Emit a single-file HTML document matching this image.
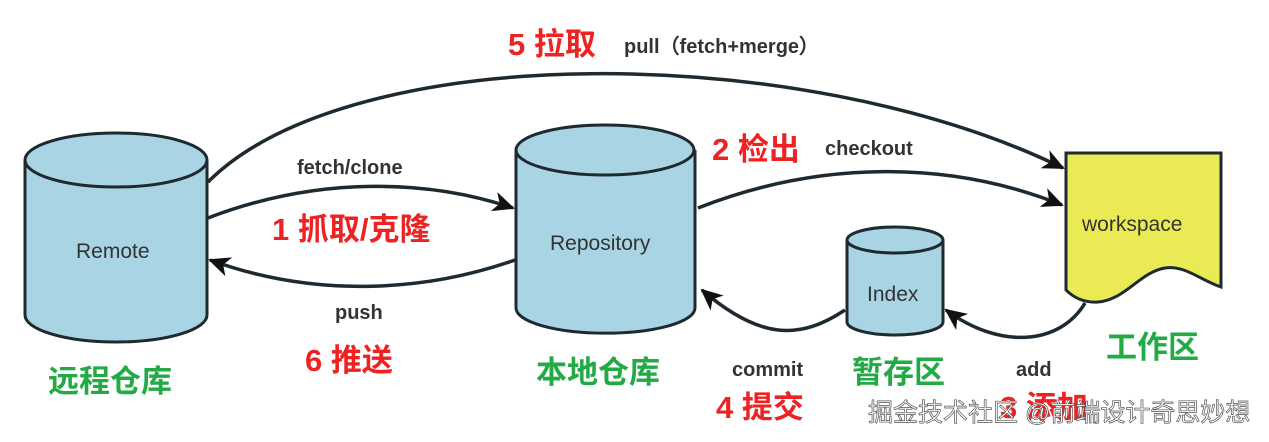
<!DOCTYPE html>
<html><head><meta charset="utf-8"><style>
html,body{margin:0;padding:0;background:#fff;}
svg{display:block;}
.l{font-family:"Liberation Sans",sans-serif;font-weight:bold;fill:#333;font-size:20px;}
.n{font-family:"Liberation Sans",sans-serif;fill:#333;font-size:21px;}
.r{font-family:"Liberation Sans","Noto Sans CJK SC",sans-serif;font-weight:bold;fill:#ee2222;font-size:31px;}
.g{font-family:"Liberation Sans","Noto Sans CJK SC",sans-serif;font-weight:bold;fill:#22aa44;font-size:31px;}
</style></head><body>
<svg width="1269" height="442" viewBox="0 0 1269 442">
<defs><marker id="a" markerWidth="22" markerHeight="22" refX="20" refY="11" orient="auto" markerUnits="userSpaceOnUse" viewBox="0 0 22 22"><path d="M0,1 L22,11 L0,21 L6,11z" fill="#111"/></marker></defs>
<g fill="#a9d4e3" stroke="#1e2a30" stroke-width="3">
<path d="M25,160 V315 A91,27 0 0 0 207,315 V160"/>
<ellipse cx="116" cy="160" rx="91" ry="27"/>
<path d="M516,150 V308 A89,25 0 0 0 695,308 V150"/>
<ellipse cx="605" cy="150" rx="89" ry="25"/>
<path d="M847,240 V322 A48,13 0 0 0 943,322 V240"/>
<ellipse cx="895" cy="240" rx="48" ry="13"/>
</g>
<path d="M1066,153 H1221 V287 C1200,280 1185,265 1165,268 C1140,272 1125,300 1098,302 C1082,303 1072,296 1066,290 Z" fill="#eaea55" stroke="#1e2a30" stroke-width="3"/>
<g fill="none" stroke="#1e2a30" stroke-width="3.5" marker-end="url(#a)">
<path d="M208,182 C350,40 800,40 1063,168"/>
<path d="M208,218 C320,175 430,180 513,208"/>
<path d="M515,260 C430,290 320,300 210,260"/>
<path d="M698,208 C820,160 950,160 1062,205"/>
<path d="M845,310 C800,340 760,340 702,290"/>
<path d="M1085,303 C1060,345 1000,350 946,310"/>
</g>
<text class="n" x="76" y="258">Remote</text>
<text class="n" x="550" y="250">Repository</text>
<text class="n" x="867" y="301">Index</text>
<text class="n" x="1082" y="231">workspace</text>
<text class="r" x="508" y="55">5 拉取</text><text class="l" x="624" y="53" font-size="22">pull（fetch+merge）</text>
<text class="l" x="297" y="174">fetch/clone</text>
<text class="r" x="272" y="240">1 抓取/克隆</text>
<text class="l" x="335" y="319">push</text>
<text class="r" x="305" y="371">6 推送</text>
<text class="r" x="712" y="160">2 检出</text><text class="l" x="825" y="155">checkout</text>
<text class="l" x="732" y="376">commit</text>
<text class="r" x="716" y="418">4 提交</text>
<text class="l" x="1016" y="376">add</text>
<text class="r" x="1000" y="418">3 添加</text>
<text class="g" x="48" y="392">远程仓库</text>
<text class="g" x="536" y="383">本地仓库</text>
<text class="g" x="852" y="383">暂存区</text>
<text class="g" x="1106" y="358">工作区</text>
<text x="868" y="421" font-family="Liberation Sans,Noto Sans CJK SC,sans-serif" font-size="25" fill="#fff" stroke="#555" stroke-width="0.7">掘金技术社区 @前端设计奇思妙想</text>
</svg>
</body></html>
